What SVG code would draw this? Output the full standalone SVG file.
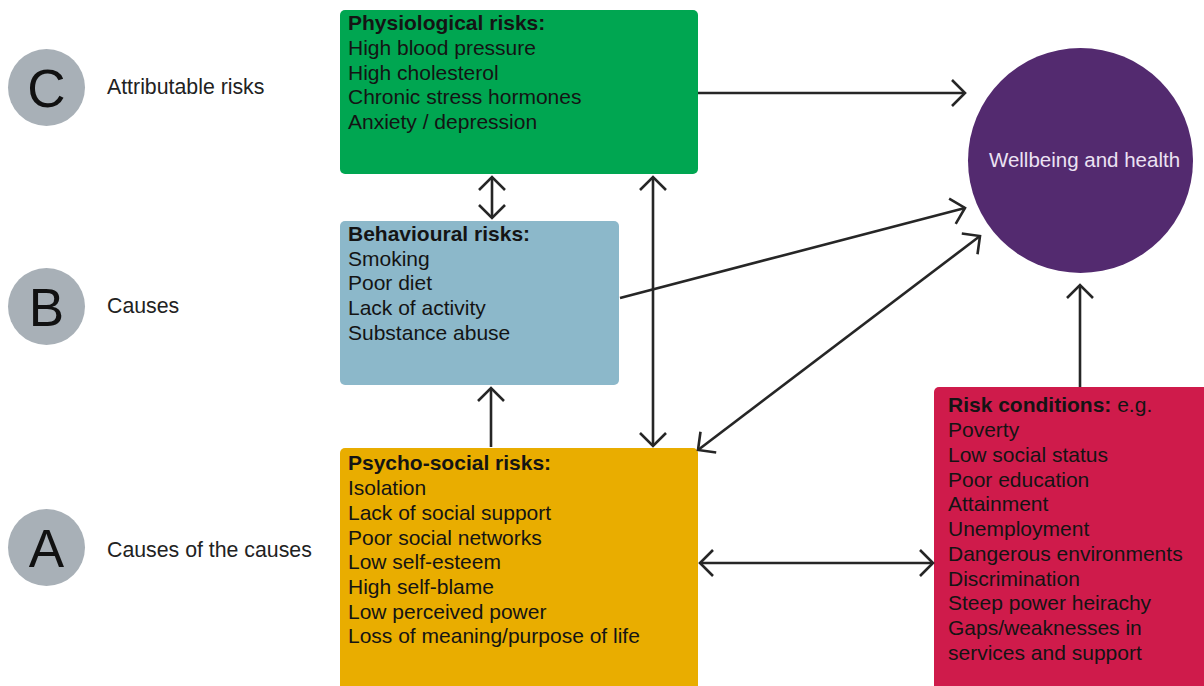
<svg xmlns="http://www.w3.org/2000/svg" width="1204" height="686" viewBox="0 0 1204 686">
<style>
  .lvl{fill:#a8b0b7}
  .letter{font-family:"Liberation Sans",Arial,sans-serif;font-size:53px;fill:#111;text-anchor:middle}
  .lab{font-family:"Liberation Sans",Arial,sans-serif;font-size:21.3px;fill:#222}
  .t{font-family:"Liberation Sans",Arial,sans-serif;font-size:21px;fill:#141414}
  .b{font-weight:bold}
  .conn{stroke:#262626;stroke-width:2.6;fill:none}
</style>
<defs>
  <marker id="ah" markerUnits="userSpaceOnUse" markerWidth="32" markerHeight="32" viewBox="-16 -16 32 32" refX="0" refY="0" orient="auto-start-reverse">
    <path d="M-13,-13 L0,0 L-13,13" fill="none" stroke="#262626" stroke-width="2.6"/>
  </marker>
</defs>
<rect width="1204" height="686" fill="#ffffff"/>

<g id="level-C">
  <circle class="lvl" cx="46.5" cy="87.5" r="38.5"/>
  <text class="letter" x="46.5" y="106.5">C</text>
  <text class="lab" x="107" y="94">Attributable risks</text>
</g>
<g id="level-B">
  <circle class="lvl" cx="46.5" cy="306.5" r="38.5"/>
  <text class="letter" x="46.5" y="325.5">B</text>
  <text class="lab" x="107" y="313">Causes</text>
</g>
<g id="level-A">
  <circle class="lvl" cx="46.5" cy="547.5" r="38.5"/>
  <text class="letter" x="46.5" y="566.5">A</text>
  <text class="lab" x="107" y="557">Causes of the causes</text>
</g>

<g id="physiological">
  <rect x="340" y="10" width="358" height="164" rx="5" fill="#00a651"/>
  <text class="t" x="348" y="30"><tspan class="b">Physiological risks:</tspan><tspan x="348" y="55">High blood pressure</tspan><tspan x="348" y="80">High cholesterol</tspan><tspan x="348" y="104">Chronic stress hormones</tspan><tspan x="348" y="129">Anxiety / depression</tspan></text>
</g>

<g id="behavioural">
  <rect x="340" y="221" width="279" height="164" rx="5" fill="#8cb8ca"/>
  <text class="t" x="348" y="241"><tspan class="b">Behavioural risks:</tspan><tspan x="348" y="266">Smoking</tspan><tspan x="348" y="290">Poor diet</tspan><tspan x="348" y="315">Lack of activity</tspan><tspan x="348" y="340">Substance abuse</tspan></text>
</g>

<g id="psychosocial">
  <rect x="340" y="448" width="358" height="245" rx="5" fill="#e9ad00"/>
  <text class="t" x="348" y="470"><tspan class="b">Psycho-social risks:</tspan><tspan x="348" y="495">Isolation</tspan><tspan x="348" y="520">Lack of social support</tspan><tspan x="348" y="545">Poor social networks</tspan><tspan x="348" y="569">Low self-esteem</tspan><tspan x="348" y="594">High self-blame</tspan><tspan x="348" y="619">Low perceived power</tspan><tspan x="348" y="643">Loss of meaning/purpose of life</tspan></text>
</g>

<g id="risk-conditions">
  <rect x="934" y="387" width="275" height="306" rx="5" fill="#cf1b4b"/>
  <text class="t" x="948" y="412"><tspan class="b">Risk conditions:</tspan> e.g.<tspan x="948" y="437">Poverty</tspan><tspan x="948" y="462">Low social status</tspan><tspan x="948" y="487">Poor education</tspan><tspan x="948" y="511">Attainment</tspan><tspan x="948" y="536">Unemployment</tspan><tspan x="948" y="561">Dangerous environments</tspan><tspan x="948" y="586">Discrimination</tspan><tspan x="948" y="610">Steep power heirachy</tspan><tspan x="948" y="635">Gaps/weaknesses in</tspan><tspan x="948" y="660">services and support</tspan></text>
</g>

<g id="wellbeing">
  <circle cx="1080.5" cy="160.5" r="112.5" fill="#532a6f"/>
  <text x="1084.5" y="167" text-anchor="middle" font-family="'Liberation Sans',Arial,sans-serif" font-size="20.5" fill="#ece2f3">Wellbeing and health</text>
</g>

<g id="connectors">
  <line class="conn" x1="698" y1="93" x2="965" y2="93" marker-end="url(#ah)"/>
  <line class="conn" x1="492" y1="177" x2="492" y2="218" marker-start="url(#ah)" marker-end="url(#ah)"/>
  <line class="conn" x1="653" y1="177" x2="653" y2="446" marker-start="url(#ah)" marker-end="url(#ah)"/>
  <line class="conn" x1="620" y1="298" x2="965" y2="208" marker-end="url(#ah)"/>
  <line class="conn" x1="698" y1="450" x2="980" y2="236" marker-start="url(#ah)" marker-end="url(#ah)"/>
  <line class="conn" x1="491" y1="447" x2="491" y2="388" marker-end="url(#ah)"/>
  <line class="conn" x1="700" y1="563" x2="933" y2="563" marker-start="url(#ah)" marker-end="url(#ah)"/>
  <line class="conn" x1="1080" y1="387" x2="1080" y2="285" marker-end="url(#ah)"/>
</g>
</svg>
